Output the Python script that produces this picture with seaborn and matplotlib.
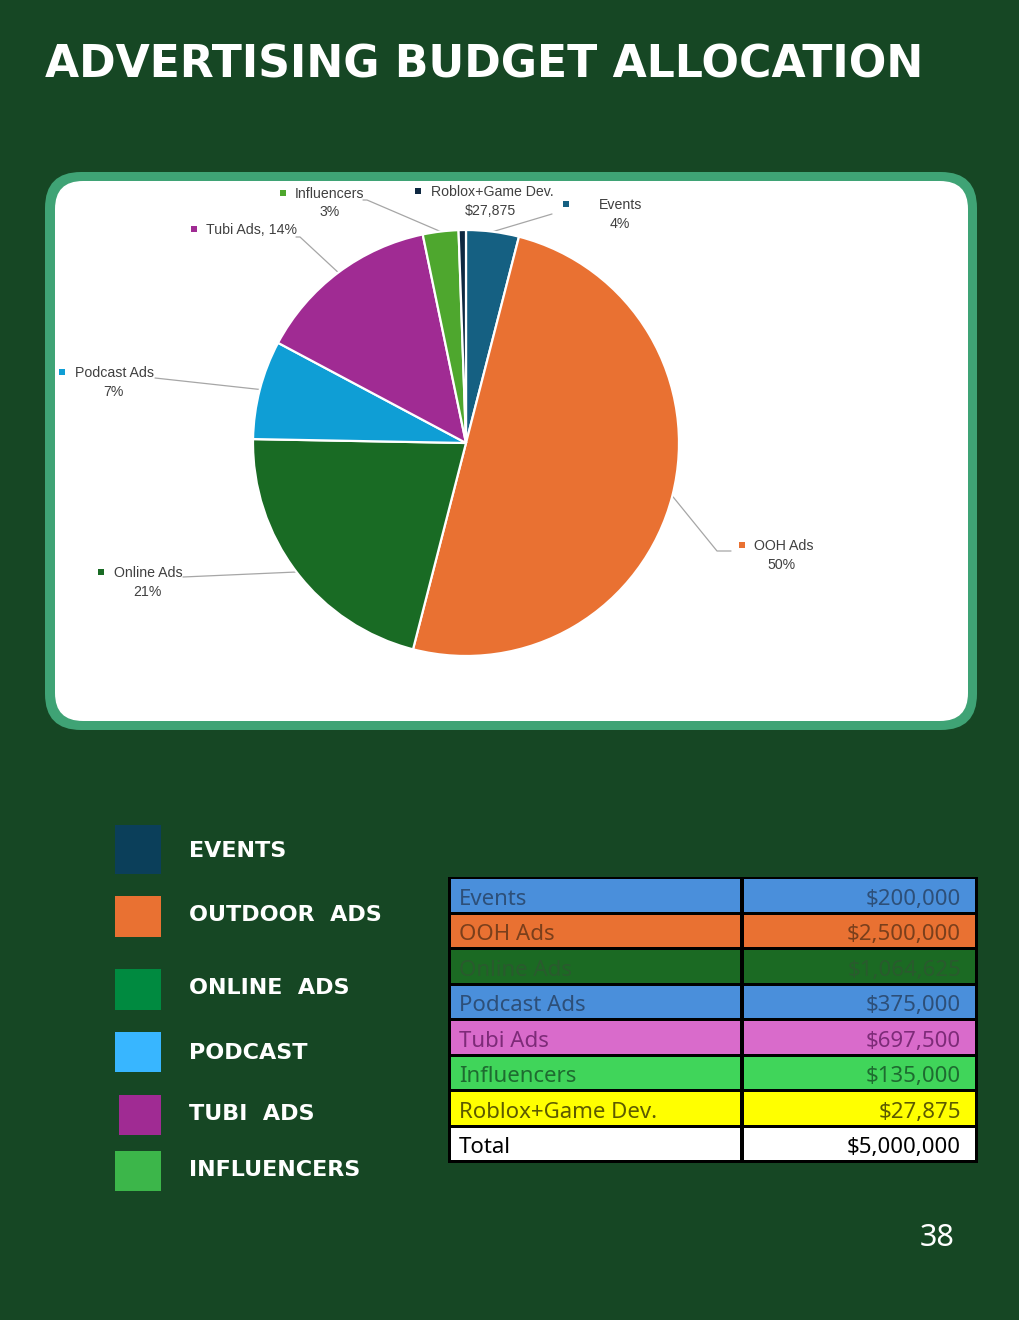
import matplotlib
matplotlib.use("Agg")
import matplotlib.pyplot as plt
import seaborn as sns
import numpy as np
from matplotlib.patches import FancyBboxPatch, Rectangle

# ---------------- data ----------------
categories = ["Events", "OOH Ads", "Online Ads", "Podcast Ads", "Tubi Ads",
              "Influencers", "Roblox+Game Dev."]
budget = [200000, 2500000, 1064625, 375000, 697500, 135000, 27875]
pie_colors = ["#156082", "#e97132", "#196b24", "#0f9ed5", "#a02b93",
              "#4ea72e", "#0e2841"]
pie_label_first = ["Events", "OOH Ads", "Online Ads", "Podcast Ads",
                   "Tubi Ads, 14%", "Influencers", "Roblox+Game Dev."]
pie_label_second = ["4%", "50%", "21%", "7%", None, "3%", "$27,875"]

legend_labels = ["EVENTS", "OUTDOOR  ADS", "ONLINE  ADS", "PODCAST",
                 "TUBI  ADS", "INFLUENCERS"]
legend_colors = ["#0b3f5a", "#e97132", "#008a40", "#38b6ff", "#a02b93",
                 "#3cb64a"]

table_labels = categories + ["Total"]
table_values = budget + [sum(budget)]
table_fill = ["#4a8fdb", "#e97132", "#1b6a23", "#4a8fdb", "#d96bcb",
              "#40d55a", "#ffff00", "#ffffff"]
table_text = ["#2d4f78", "#7a3f1c", "#2a5a2e", "#2d4f78", "#7d2b78",
              "#1e6b30", "#5c5a00", "#000000"]

title = "ADVERTISING BUDGET ALLOCATION"
page_number = "38"

# ---------------- style ----------------
sns.set_theme(style="white")
BG = "#164724"
plt.rcParams["font.family"] = ["DejaVu Sans"]

W, H = 1020, 1320
fig = plt.figure(figsize=(W / 100, H / 100), dpi=100, facecolor=BG)

bg = fig.add_axes([0, 0, 1, 1])
bg.set_xlim(0, W)
bg.set_ylim(H, 0)
bg.axis("off")

# title
bg.text(45, 65, title, color="white", fontsize=31.8, fontweight="heavy",
        ha="left", va="center", family="DejaVu Sans")

# card
bg.add_patch(FancyBboxPatch((45, 172), 932, 558,
                            boxstyle="round,pad=0,rounding_size=36",
                            fc="#3fa375", ec="none", zorder=1))
bg.add_patch(FancyBboxPatch((55, 181), 913, 540,
                            boxstyle="round,pad=0,rounding_size=28",
                            fc="white", ec="none", zorder=2))

# pie
cx, cy, R = 466, 443, 213
ax_pie = fig.add_axes([(cx - R) / W, 1 - (cy + R) / H, 2 * R / W, 2 * R / H])
wedges, _ = ax_pie.pie(budget, colors=sns.color_palette(pie_colors),
                       startangle=90, counterclock=False,
                       wedgeprops=dict(edgecolor="white", linewidth=1.6))
ax_pie.set_xlim(-1, 1)
ax_pie.set_ylim(-1, 1)
ax_pie.set_aspect("equal")
ax_pie.axis("off")

# label layout (pixel): marker x, text left x, line1 y, line2 centre x, line2 y, leader path
label_layout = [
    dict(mx=566, tx=599, y1=205, cx2=620, y2=224, path=[(552, 214)]),
    dict(mx=742, tx=754, y1=546, cx2=782, y2=565, path=[(717, 551), (731, 551)]),
    dict(mx=101, tx=114, y1=573, cx2=147, y2=592, path=[(183, 577)]),
    dict(mx=62, tx=75, y1=373, cx2=113, y2=392, path=[(155, 378)]),
    dict(mx=194, tx=206, y1=230, cx2=None, y2=None, path=[(300, 237), (296, 237)]),
    dict(mx=283, tx=295, y1=194, cx2=330, y2=212, path=[(367, 200), (363, 200)]),
    dict(mx=418, tx=431, y1=192, cx2=490, y2=211, path=None),
]
LBL_FONT = ["Liberation Sans", "DejaVu Sans"]
LBL_COL = "#404040"
for w, col, t1, t2, lay in zip(wedges, pie_colors, pie_label_first,
                               pie_label_second, label_layout):
    mid = np.deg2rad((w.theta1 + w.theta2) / 2)
    ex, ey = cx + R * np.cos(mid), cy - R * np.sin(mid)
    if lay["path"]:
        xs = [ex] + [p[0] for p in lay["path"]]
        ys = [ey] + [p[1] for p in lay["path"]]
        bg.plot(xs, ys, color="#a6a6a6", lw=0.9, zorder=3)
    bg.add_patch(Rectangle((lay["mx"] - 3, lay["y1"] - 4), 6, 6, fc=col,
                           ec="none", zorder=4))
    bg.text(lay["tx"], lay["y1"], t1, color=LBL_COL, fontsize=10.2,
            family=LBL_FONT, ha="left", va="center", zorder=4)
    if t2:
        bg.text(lay["cx2"], lay["y2"], t2, color=LBL_COL, fontsize=10.2,
                family=LBL_FONT, ha="center", va="center", zorder=4)

# legend
legend_boxes = [(115, 825, 46, 49), (115, 896, 46, 41), (115, 969, 46, 41),
                (115, 1032, 46, 40), (119, 1095, 42, 40), (115, 1151, 46, 40)]
legend_text_y = [851, 915, 988, 1053, 1114, 1170]
for lab, col, box, ty in zip(legend_labels, legend_colors, legend_boxes, legend_text_y):
    bg.add_patch(Rectangle((box[0], box[1]), box[2], box[3], fc=col, ec="none"))
    bg.text(189, ty, lab, color="white", fontsize=16, fontweight="bold",
            ha="left", va="center", family="DejaVu Sans")

# table
tx0, tx1, tdiv = 448, 978, 742
ty0, row_h = 877, 35.5
bg.add_patch(Rectangle((tx0, ty0), tx1 - tx0, row_h * len(table_labels) + 2,
                       fc="black", ec="none", zorder=2))
for i, (lab, val, fc, tc) in enumerate(zip(table_labels, table_values,
                                           table_fill, table_text)):
    top = ty0 + 2 + i * row_h
    hgt = row_h - 3
    bg.add_patch(Rectangle((tx0 + 3, top), tdiv - tx0 - 5, hgt, fc=fc, ec="none", zorder=3))
    bg.add_patch(Rectangle((tdiv + 2, top), tx1 - tdiv - 5, hgt, fc=fc, ec="none", zorder=3))
    yc = top + hgt / 2 + 4
    bg.text(459, yc, lab, color=tc, fontsize=16, family=["Noto Sans", "DejaVu Sans"],
            ha="left", va="center", zorder=4)
    bg.text(961, yc, f"${val:,}", color=tc, fontsize=16,
            family=["Noto Sans", "DejaVu Sans"], ha="right", va="center", zorder=4)

# page number
bg.text(937, 1238, page_number, color="white", fontsize=22,
        family=["Noto Sans", "DejaVu Sans"], ha="center", va="center")

fig.savefig("out.png", dpi=100, facecolor=BG)
